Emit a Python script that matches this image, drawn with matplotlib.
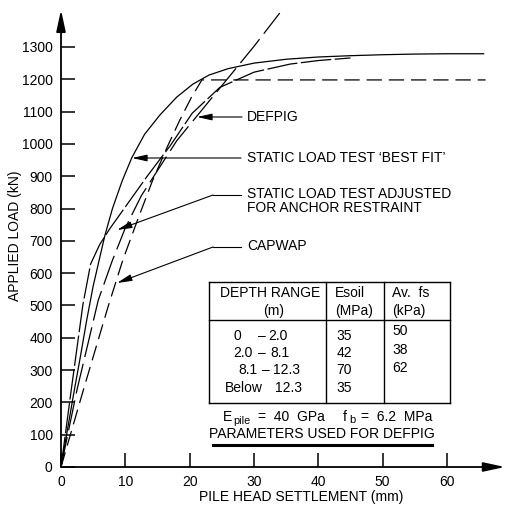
import matplotlib
matplotlib.use('Agg')
import matplotlib.pyplot as plt
from matplotlib.lines import Line2D

# ---------------- data ----------------
best_fit_x = [0, 1, 2, 3, 4, 5, 6.8, 8, 9.5, 11, 13, 15.4, 18, 20.5, 23, 26, 30, 35, 40, 45, 50, 55, 60, 65.8]
best_fit_y = [0, 115, 230, 340, 455, 560, 715, 800, 885, 957, 1030, 1090, 1145, 1185, 1213, 1233, 1250, 1262, 1269, 1273, 1276, 1278, 1279, 1279]

adjusted_x = [0, 1.5, 3.4, 4.6, 6.0, 7.6, 10, 13.4, 17, 20.4, 24.7, 30, 35.6, 40, 45]
adjusted_y = [0, 225, 502, 628, 688, 738, 805, 900, 995, 1095, 1175, 1222, 1247, 1258, 1266]

capwap_x = [0, 3.5, 7.3, 9.6, 12, 14.2, 16.5, 18.5, 20.3, 21.9, 30, 40, 50, 60, 66]
capwap_y = [0, 240, 495, 640, 770, 885, 990, 1075, 1145, 1198, 1198, 1198, 1198, 1198, 1198]

defpig_x = [0, 2.5, 5.8, 8, 10, 12.5, 15.4, 18, 21.2, 25.2, 30, 34]
defpig_y = [0, 240, 517, 640, 740, 840, 930, 1010, 1088, 1185, 1302, 1405]

x_ticks = [0, 10, 20, 30, 40, 50, 60]
y_ticks = [0, 100, 200, 300, 400, 500, 600, 700, 800, 900, 1000, 1100, 1200, 1300]

depth_from = ['0', '2.0', '8.1', 'Below']
depth_to = ['2.0', '8.1', '12.3', '12.3']
esoil = ['35', '42', '70', '35']
avfs = ['50', '38', '62']

# ---------------- style ----------------
plt.rcParams['font.family'] = ['Liberation Sans', 'DejaVu Sans']
plt.rcParams['lines.scale_dashes'] = False
FS = 10
K = 'black'

W, H = 508, 512
X0, Y0 = 61, 467          # pixel position of data origin
SX, SY = 6.433, 0.3231    # pixels per mm, pixels per kN
XR, YT = 505, 9.8         # ends of the axis arrows

fig = plt.figure(figsize=(W / 100, H / 100), dpi=100)
fig.patch.set_facecolor('white')
ax = fig.add_axes([X0 / W, (H - Y0) / H, (XR - X0) / W, (Y0 - YT) / H])
ax.set_xlim(0, (XR - X0) / SX)
ax.set_ylim(0, (Y0 - YT) / SY)
for s in ax.spines.values():
    s.set_visible(False)


def d(px, py):
    return ((px - X0) / SX, (Y0 - py) / SY)


def f(px, py):
    return (px / W, 1 - py / H)


# axis arrows
axis_arrow = dict(arrowstyle='-|>,head_length=1.3,head_width=0.28', lw=1.3, color=K,
                  mutation_scale=10, shrinkA=0, shrinkB=0)
ax.annotate('', xy=(0, ax.get_ylim()[1]), xytext=(0, 0), arrowprops=axis_arrow, annotation_clip=False)
ax.annotate('', xy=(ax.get_xlim()[1], 0), xytext=(0, 0), arrowprops=axis_arrow, annotation_clip=False)

ax.set_xticks(x_ticks)
ax.set_yticks(y_ticks)
ax.set_xticklabels([str(v) for v in x_ticks])
ax.set_yticklabels([str(v) for v in y_ticks])
ax.tick_params(direction='in', length=10, width=1.1, pad=6, labelsize=FS, colors=K)

# curves
ax.plot(best_fit_x, best_fit_y, color=K, lw=0.9, solid_capstyle='butt')
ax.plot(adjusted_x, adjusted_y, color=K, lw=0.9, dashes=(22, 2.5))
ax.plot(capwap_x, capwap_y, color=K, lw=0.9, dashes=(11, 5))
ax.plot(defpig_x, defpig_y, color=K, lw=0.9, dashes=(22, 5))

# labels with arrows
aprops = dict(arrowstyle='-|>,head_length=0.9,head_width=0.2', lw=0.8, color=K,
              mutation_scale=10, shrinkA=0, shrinkB=0)
ax.text(*d(247, 117), 'DEFPIG', fontsize=FS, va='center', ha='left')
ax.annotate('', xy=d(197, 117), xytext=d(242, 117), arrowprops=aprops)
ax.text(*d(247, 158), "STATIC LOAD TEST \u2018BEST FIT\u2019", fontsize=FS, va='center', ha='left')
ax.annotate('', xy=d(132, 158), xytext=d(241, 158), arrowprops=aprops)
ax.text(*d(247, 201), "STATIC LOAD TEST ADJUSTED\nFOR ANCHOR RESTRAINT", fontsize=FS, va='center', ha='left',
        linespacing=1.0)
ax.plot(*zip(d(241, 195), d(213, 195)), color=K, lw=0.8, clip_on=False)
ax.annotate('', xy=d(117, 230), xytext=d(213, 195), arrowprops=aprops)
ax.text(*d(247, 246), "CAPWAP", fontsize=FS, va='center', ha='left')
ax.plot(*zip(d(241, 247), d(213, 247)), color=K, lw=0.8, clip_on=False)
ax.annotate('', xy=d(117, 283), xytext=d(213, 247), arrowprops=aprops)

# axis titles
fig.text(*f(15, 236), 'APPLIED LOAD (kN)', rotation=90, ha='center', va='center', fontsize=FS)
fig.text(*f(301, 497), 'PILE HEAD SETTLEMENT (mm)', ha='center', va='center', fontsize=FS)


# table
def fl(x1, y1, x2, y2, lw=1.0):
    fig.add_artist(Line2D([x1 / W, x2 / W], [1 - y1 / H, 1 - y2 / H], transform=fig.transFigure,
                          color=K, lw=lw, solid_capstyle='projecting'))


TL, TR, TT, TB = 209, 450, 282, 403
C1, C2, HS = 326, 384, 320
fl(TL, TT, TR, TT); fl(TL, TB, TR, TB); fl(TL, TT, TL, TB); fl(TR, TT, TR, TB)
fl(C1, TT, C1, TB); fl(C2, TT, C2, TB); fl(TL, HS, TR, HS)

fig.text(*f(270, 293), 'DEPTH RANGE', ha='center', va='center', fontsize=FS)
fig.text(*f(274, 311), '(m)', ha='center', va='center', fontsize=FS)
fig.text(*f(335, 293), 'Esoil', ha='left', va='center', fontsize=FS)
fig.text(*f(335, 311), '(MPa)', ha='left', va='center', fontsize=FS)
fig.text(*f(392, 293), 'Av.  fs', ha='left', va='center', fontsize=FS)
fig.text(*f(392, 311), '(kPa)', ha='left', va='center', fontsize=FS)

row_y = [336, 353, 370, 388]
from_x = [234, 233, 238, 225]
dash_x = [262, 262, 266, None]
to_x = [268, 270, 273, 275]
for i in range(len(depth_from)):
    fig.text(*f(from_x[i], row_y[i]), depth_from[i], ha='left', va='center', fontsize=FS)
    if dash_x[i] is not None:
        fig.text(*f(dash_x[i], row_y[i]), '\u2013', ha='center', va='center', fontsize=FS)
    fig.text(*f(to_x[i], row_y[i]), depth_to[i], ha='left', va='center', fontsize=FS)
    fig.text(*f(344, row_y[i]), esoil[i], ha='center', va='center', fontsize=FS)
fs_y = [331, 350, 368]
for i in range(len(avfs)):
    fig.text(*f(400, fs_y[i]), avfs[i], ha='center', va='center', fontsize=FS)

# parameters line
fig.text(*f(223, 417), 'E', ha='left', va='center', fontsize=FS)
fig.text(*f(233, 421), 'pile', ha='left', va='center', fontsize=FS * 0.78)
fig.text(*f(258, 417), '=  40  GPa', ha='left', va='center', fontsize=FS)
fig.text(*f(343, 417), 'f', ha='left', va='center', fontsize=FS)
fig.text(*f(349, 420), 'b', ha='left', va='center', fontsize=FS * 0.8)
fig.text(*f(361, 417), '=  6.2  MPa', ha='left', va='center', fontsize=FS)
fig.text(*f(322, 434), 'PARAMETERS USED FOR DEFPIG', ha='center', va='center', fontsize=FS)
fl(213, 445, 432, 445, lw=2.2)

fig.savefig('out.png', dpi=100, facecolor='white')
